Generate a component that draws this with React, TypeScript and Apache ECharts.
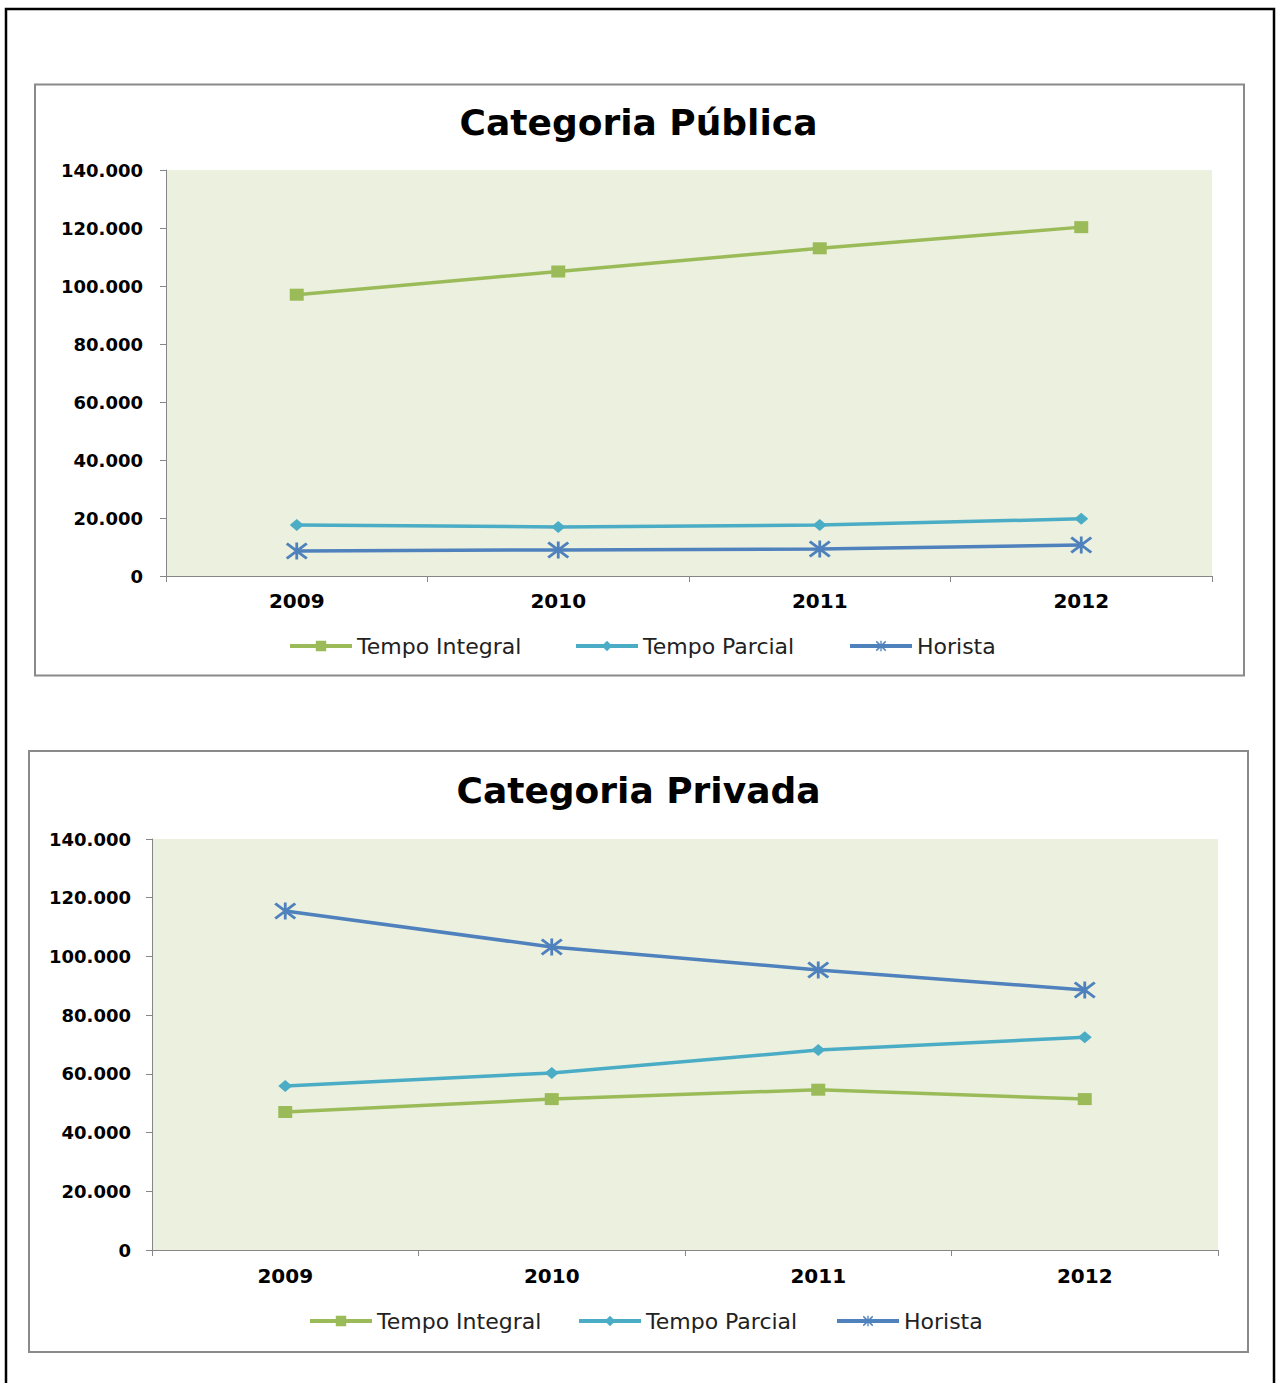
import React, { useEffect, useRef } from "react";
import * as echarts from "echarts";

const years = ["2009", "2010", "2011", "2012"];
const seriesNames = ["Tempo Integral", "Tempo Parcial", "Horista"];

const publicaIntegral = [97000, 105000, 113000, 120300];
const publicaParcial = [17600, 16900, 17600, 19700];
const publicaHorista = [8600, 9000, 9300, 10700];

const privadaIntegral = [47000, 51400, 54600, 51400];
const privadaParcial = [55900, 60300, 68100, 72500];
const privadaHorista = [115500, 103200, 95400, 88600];

const titles = ["Categoria Pública", "Categoria Privada"];

const FONT = '"DejaVu Sans", Verdana, sans-serif';
const GREEN = "#9BBB59";
const TEAL = "#4BACC6";
const BLUE = "#4F81BD";

const ASTERISK =
  "path://M2 0 L22 15 L20 17 L0 2 Z M20 0 L22 2 L2 17 L0 15 Z M9.6 0 L12.4 0 L12.4 17 L9.6 17 Z";

function fmt(v: number) {
  return String(v).replace(/\B(?=(\d{3})+(?!\d))/g, ".");
}

function makeSeries(idx: number, integral: number[], parcial: number[], horista: number[]) {
  return [
    {
      name: seriesNames[0],
      type: "line",
      xAxisIndex: idx,
      yAxisIndex: idx,
      data: integral,
      symbol: "rect",
      symbolSize: [14, 12],
      lineStyle: { color: GREEN, width: 3.5 },
      itemStyle: { color: GREEN },
    },
    {
      name: seriesNames[1],
      type: "line",
      xAxisIndex: idx,
      yAxisIndex: idx,
      data: parcial,
      symbol: "diamond",
      symbolSize: [14, 12],
      lineStyle: { color: TEAL, width: 3.5 },
      itemStyle: { color: TEAL },
    },
    {
      name: seriesNames[2],
      type: "line",
      xAxisIndex: idx,
      yAxisIndex: idx,
      data: horista,
      symbol: ASTERISK,
      symbolSize: [22, 17],
      lineStyle: { color: BLUE, width: 3.5 },
      itemStyle: { color: BLUE },
    },
  ];
}

function makeX(idx: number, margin: number) {
  return {
    type: "category",
    gridIndex: idx,
    data: years,
    boundaryGap: true,
    axisLine: { show: true, lineStyle: { color: "#868686", width: 1 } },
    axisTick: { show: true, length: 6, lineStyle: { color: "#868686" } },
    axisLabel: {
      color: "#000",
      fontFamily: FONT,
      fontWeight: "bold",
      fontSize: 20,
      margin,
    },
    splitLine: { show: false },
  };
}

function makeY(idx: number, margin: number) {
  return {
    type: "value",
    gridIndex: idx,
    min: 0,
    max: 140000,
    interval: 20000,
    axisLine: { show: true, lineStyle: { color: "#868686", width: 1 } },
    axisTick: { show: true, length: 6, lineStyle: { color: "#868686" } },
    axisLabel: {
      color: "#000",
      fontFamily: FONT,
      fontWeight: "bold",
      fontSize: 18,
      margin,
      formatter: (v: number) => fmt(v),
    },
    splitLine: { show: false },
  };
}

function makeLegend(name: string, left: number, top: number) {
  return {
    data: [name],
    left,
    top,
    padding: 0,
    orient: "horizontal",
    itemWidth: 62,
    itemHeight: 13,
    selectedMode: false,
    lineStyle: { width: 4 },
    textStyle: { color: "#222", fontFamily: FONT, fontSize: 22 },
  };
}

export default function App() {
  const ref = useRef<HTMLDivElement>(null);
  useEffect(() => {
    document.body.style.margin = "0";
    if (!ref.current) return;
    const chart = echarts.init(ref.current, undefined, { renderer: "svg" });
    chart.setOption({
      animation: false,
      backgroundColor: "#ffffff",
      title: [
        {
          text: titles[0],
          left: "center",
          top: 99,
          textStyle: { fontFamily: FONT, fontWeight: "bold", fontSize: 36, color: "#000" },
        },
        {
          text: titles[1],
          left: "center",
          top: 767,
          textStyle: { fontFamily: FONT, fontWeight: "bold", fontSize: 36, color: "#000" },
        },
      ],
      grid: [
        {
          left: 166,
          top: 170,
          width: 1046,
          height: 406,
          show: true,
          backgroundColor: "#EBF0DF",
          borderWidth: 0,
        },
        {
          left: 152,
          top: 839,
          width: 1066,
          height: 411,
          show: true,
          backgroundColor: "#EBF0DF",
          borderWidth: 0,
        },
      ],
      xAxis: [makeX(0, 15), makeX(1, 16)],
      yAxis: [makeY(0, 23), makeY(1, 21)],
      legend: [
        makeLegend(seriesNames[0], 288, 635),
        makeLegend(seriesNames[1], 574, 635),
        makeLegend(seriesNames[2], 848, 635),
        makeLegend(seriesNames[0], 308, 1310),
        makeLegend(seriesNames[1], 577, 1310),
        makeLegend(seriesNames[2], 835, 1310),
      ],
      graphic: [
        {
          type: "rect",
          shape: { x: 6, y: 9, width: 1268, height: 1400 },
          style: { fill: "none", stroke: "#000", lineWidth: 2.5 },
          silent: true,
          z: 100,
        },
        {
          type: "rect",
          shape: { x: 35, y: 84.5, width: 1209, height: 591 },
          style: { fill: "none", stroke: "#8a8a8a", lineWidth: 2 },
          silent: true,
          z: 100,
        },
        {
          type: "rect",
          shape: { x: 29, y: 751, width: 1219, height: 601 },
          style: { fill: "none", stroke: "#8a8a8a", lineWidth: 2 },
          silent: true,
          z: 100,
        },
      ],
      series: [
        ...makeSeries(0, publicaIntegral, publicaParcial, publicaHorista),
        ...makeSeries(1, privadaIntegral, privadaParcial, privadaHorista),
      ],
    });
    return () => chart.dispose();
  }, []);
  return <div ref={ref} style={{ width: 1277, height: 1383 }} />;
}
